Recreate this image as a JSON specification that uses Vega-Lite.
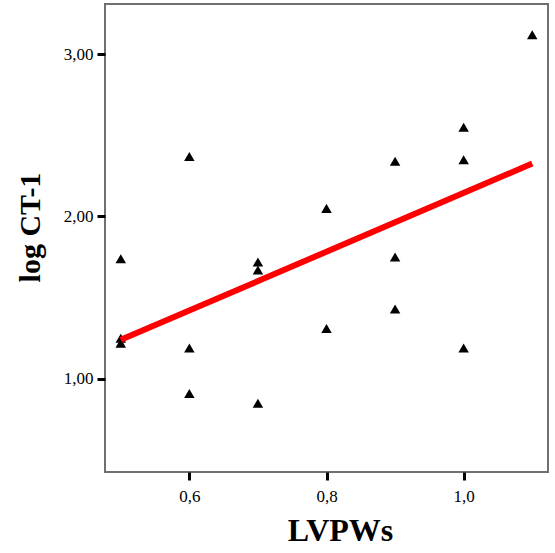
{
  "$schema": "https://vega.github.io/schema/vega-lite/v6.json",
  "autosize": "none",
  "width": 443,
  "height": 468,
  "padding": {"left": 105, "top": 4, "right": 7, "bottom": 81},
  "background": "white",
  "config": {
    "view": {"stroke": "#707070", "strokeWidth": 2},
    "font": "Liberation Serif",
    "axis": {
      "domain": false,
      "grid": false,
      "tickColor": "black",
      "tickWidth": 3,
      "tickSize": 8,
      "labelFont": "Liberation Serif",
      "labelFontSize": 17,
      "labelColor": "black",
      "titleFont": "Liberation Serif",
      "titleFontSize": 30,
      "titleFontWeight": "bold",
      "titleColor": "black"
    }
  },
  "data": {
    "values": [
      {"x": 0.5, "y": 1.74},
      {"x": 0.5, "y": 1.25},
      {"x": 0.5, "y": 1.22},
      {"x": 0.6, "y": 2.37},
      {"x": 0.6, "y": 1.19},
      {"x": 0.6, "y": 0.91},
      {"x": 0.7, "y": 1.72},
      {"x": 0.7, "y": 1.67},
      {"x": 0.7, "y": 0.85},
      {"x": 0.8, "y": 2.05},
      {"x": 0.8, "y": 1.31},
      {"x": 0.9, "y": 2.34},
      {"x": 0.9, "y": 1.75},
      {"x": 0.9, "y": 1.43},
      {"x": 1.0, "y": 2.55},
      {"x": 1.0, "y": 2.35},
      {"x": 1.0, "y": 1.19},
      {"x": 1.1, "y": 3.12}
    ]
  },
  "layer": [
    {
      "mark": {"type": "point", "shape": "triangle-up", "filled": true, "color": "black", "opacity": 1, "size": 110},
      "encoding": {
        "x": {
          "field": "x", "type": "quantitative",
          "scale": {"domain": [0.477, 1.123], "zero": false, "nice": false},
          "axis": {"values": [0.6, 0.8, 1.0], "labelExpr": "replace(format(datum.value, '.1f'), '.', ',')", "labelPadding": 8, "title": "LVPWs", "titlePadding": 11, "titleFontSize": 32, "titleX": 235}
        },
        "y": {
          "field": "y", "type": "quantitative",
          "scale": {"domain": [0.426, 3.309], "zero": false, "nice": false},
          "axis": {"values": [1, 2, 3], "labelExpr": "replace(format(datum.value, '.2f'), '.', ',')", "labelPadding": 4, "title": "log CT-1", "titlePadding": 18, "titleY": 223}
        }
      }
    },
    {
      "transform": [{"regression": "y", "on": "x"}],
      "mark": {"type": "line", "color": "#ff0000", "strokeWidth": 6},
      "encoding": {
        "x": {"field": "x", "type": "quantitative"},
        "y": {"field": "y", "type": "quantitative"}
      }
    }
  ]
}
